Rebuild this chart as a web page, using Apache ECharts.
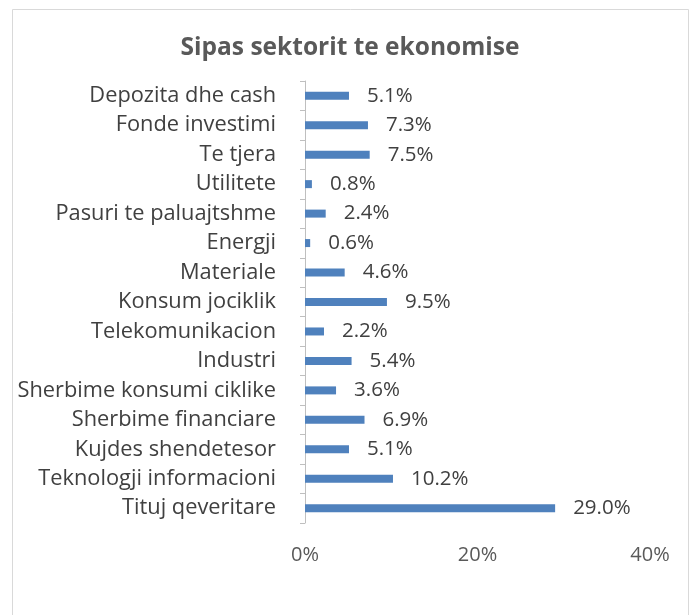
<!DOCTYPE html>
<html><head><meta charset="utf-8">
<script src="https://cdn.jsdelivr.net/npm/echarts@6/dist/echarts.min.js"></script>
<style>html,body{margin:0;padding:0;background:#fff}#c{width:691px;height:615px}</style>
</head><body><div id="c"></div>
<script>
const categories = ["Depozita dhe cash","Fonde investimi","Te tjera","Utilitete","Pasuri te paluajtshme","Energji","Materiale","Konsum jociklik","Telekomunikacion","Industri","Sherbime konsumi ciklike","Sherbime financiare","Kujdes shendetesor","Teknologji informacioni","Tituj qeveritare"];
const values = [5.1,7.3,7.5,0.8,2.4,0.6,4.6,9.5,2.2,5.4,3.6,6.9,5.1,10.2,29.0];
const title = "Sipas sektorit te ekonomise";
const font = "Open Sans";
const chart = echarts.init(document.getElementById('c'), null, {renderer:'canvas'});
chart.setOption({
  backgroundColor:'#fff',
  animation:false,
  title:{text:title,left:345,textAlign:'center',top:31,textStyle:{fontFamily:font,fontSize:24.5,fontWeight:'bold',color:'#595959'}},
  graphic:[{type:'rect',shape:{x:12.5,y:9.5,width:676,height:620},style:{fill:null,stroke:'#d9d9d9',lineWidth:1},silent:true}],
  grid:{left:305,right:41,top:81,bottom:92},
  xAxis:{type:'value',min:0,max:40,interval:20,
    axisLine:{show:false},axisTick:{show:false},splitLine:{show:false},
    axisLabel:{formatter:v=>v+'%',fontFamily:font,fontSize:20,color:'#595959',margin:22}},
  yAxis:{type:'category',data:categories.slice().reverse(),
    axisLine:{show:true,lineStyle:{color:'#bfbfbf'}},
    axisTick:{show:true,length:5,lineStyle:{color:'#bfbfbf'}},
    axisLabel:{fontFamily:font,fontSize:21.8,color:'#404040',margin:29}},
  series:[{type:'bar',data:values.slice().reverse(),barWidth:8,
    itemStyle:{color:'#4f81bd'},
    label:{show:true,position:'right',distance:18,formatter:p=>p.value.toFixed(1)+'%',fontFamily:font,fontSize:20.5,color:'#404040'}}]
});
</script></body></html>
